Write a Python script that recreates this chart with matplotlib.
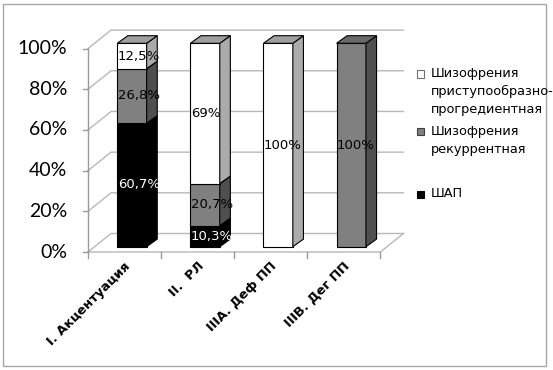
import matplotlib
matplotlib.use("Agg")
import matplotlib.pyplot as plt
from matplotlib.patches import Polygon, Rectangle

# ---------------- data ----------------
categories = ["I. Акцентуация", "II.  РЛ", "IIIА. Деф ПП", "IIIВ. Дег ПП"]
series_names = ["Шизофрения\nприступообразно-\nпрогредиентная",
                "Шизофрения\nрекуррентная",
                "ШАП"]
shap = [60.7, 10.3, 0, 0]
recurrent = [26.8, 20.7, 0, 100]
pristup = [12.5, 69, 100, 0]
yticks = [0, 20, 40, 60, 80, 100]
ytick_labels = ["0%", "20%", "40%", "60%", "80%", "100%"]

# ---------------- figure ----------------
W, H = 553, 370
fig = plt.figure(figsize=(W / 100, H / 100), dpi=100)
fig.patch.set_facecolor("white")

# front plane of the 3D box (pixel layout)
ax_left, ax_right, ax_top, ax_bottom = 88, 380.4, 48.6, 252
ax = fig.add_axes([ax_left / W, 1 - ax_bottom / H,
                   (ax_right - ax_left) / W, (ax_bottom - ax_top) / H])
ncat = len(categories)
ax.set_xlim(-0.5, ncat - 0.5)
ax.set_ylim(0, 100)
ax.axis("off")

ux = (ax_right - ax_left) / ncat      # px per category unit
uy = (ax_bottom - ax_top) / 100.0     # px per percent

# depth of walls / bars (converted from px to data units)
WDX, WDY = 23 / ux, 18.5 / uy
BDX0, BDY0 = 7.4 / ux, 5.3 / uy
BW = 29.4 / ux
DDX, DDY = 10.6 / ux, 7.6 / uy

grid_c = "#b8b8b8"
axis_c = "#9a9a9a"
xl, xr = -0.5, ncat - 0.5

# back wall gridlines + side wall diagonals
for v in yticks:
    ax.plot([xl, xl + WDX, xr + WDX], [v, v + WDY, v + WDY],
            color=grid_c, lw=1, clip_on=False, zorder=1)
    # y tick marks
    ax.plot([xl - 5 / ux, xl], [v, v], color=axis_c, lw=1, clip_on=False, zorder=1)
    ax.text(xl - 21 / ux, v, ytick_labels[yticks.index(v)], ha="right", va="center",
            fontsize=14, family=["Lato", "DejaVu Sans"], color="black")
# floor
ax.plot([xl, xr, xr + WDX], [0, 0, WDY], color=grid_c, lw=1, clip_on=False, zorder=1)
# y axis line
ax.plot([xl, xl], [0, 100], color=axis_c, lw=1, clip_on=False, zorder=1)
# x tick marks
for k in range(ncat + 1):
    ax.plot([xl + k, xl + k], [0, -6 / uy], color=axis_c, lw=1, clip_on=False, zorder=1)

# ---------------- bars ----------------
series = [shap, recurrent, pristup]
front_c = ["#000000", "#808080", "#ffffff"]
side_c = ["#000000", "#4f4f4f", "#ababab"]
top_c = ["#000000", "#6a6a6a", "#a0a0a0"]
lab_c = ["white", "black", "black"]

def fmt(v):
    return ("%g" % v).replace(".", ",") + "%"

for i in range(ncat):
    base = 0.0
    x0 = i + BDX0 - BW / 2
    for s, vals in enumerate(series):
        v = vals[i]
        if v <= 0:
            continue
        y0 = base + BDY0
        y1 = base + v + BDY0
        kw = dict(lw=0.8, edgecolor="black", clip_on=False, zorder=3)
        ax.add_patch(Rectangle((x0, y0), BW, v, facecolor=front_c[s], **kw))
        ax.add_patch(Polygon([(x0 + BW, y0), (x0 + BW + DDX, y0 + DDY),
                              (x0 + BW + DDX, y1 + DDY), (x0 + BW, y1)],
                             closed=True, facecolor=side_c[s], **kw))
        ax.add_patch(Polygon([(x0, y1), (x0 + DDX, y1 + DDY),
                              (x0 + BW + DDX, y1 + DDY), (x0 + BW, y1)],
                             closed=True, facecolor=top_c[s], **kw))
        ax.text(x0 + 0.5 / ux, base + v / 2 + BDY0, fmt(v), ha="left", va="center",
                fontsize=9.5, color=lab_c[s], family="DejaVu Sans", zorder=6)
        base += v

# category labels
for i, c in enumerate(categories):
    ax.text(i + 4 / ux, -12 / uy, c, rotation=45, rotation_mode="anchor",
            ha="right", va="center", fontsize=9.3, fontweight="bold",
            family="DejaVu Sans", color="black")

# ---------------- legend ----------------
leg_items = [(series_names[0], "#ffffff", "#707070", 74),
             (series_names[1], "#808080", "#404040", 131.7),
             (series_names[2], "#000000", "#000000", 194.3)]
for name, fc, ec, ypx in leg_items:
    fig.patches.append(Rectangle(((417) / W, 1 - (ypx + 3.5) / H), 7 / W, 7 / H,
                                 transform=fig.transFigure, facecolor=fc,
                                 edgecolor=ec, lw=0.8))
    fig.text(431 / W, 1 - (ypx - 7) / H, name, ha="left", va="top",
             fontsize=9.3, family="DejaVu Sans", linespacing=1.5, color="black")

# outer border
fig.patches.append(Rectangle((3 / W, 4 / H), 543 / W, 362 / H,
                             transform=fig.transFigure, facecolor="none",
                             edgecolor="#a6a6a6", lw=1))

fig.savefig("out.png", dpi=100)
